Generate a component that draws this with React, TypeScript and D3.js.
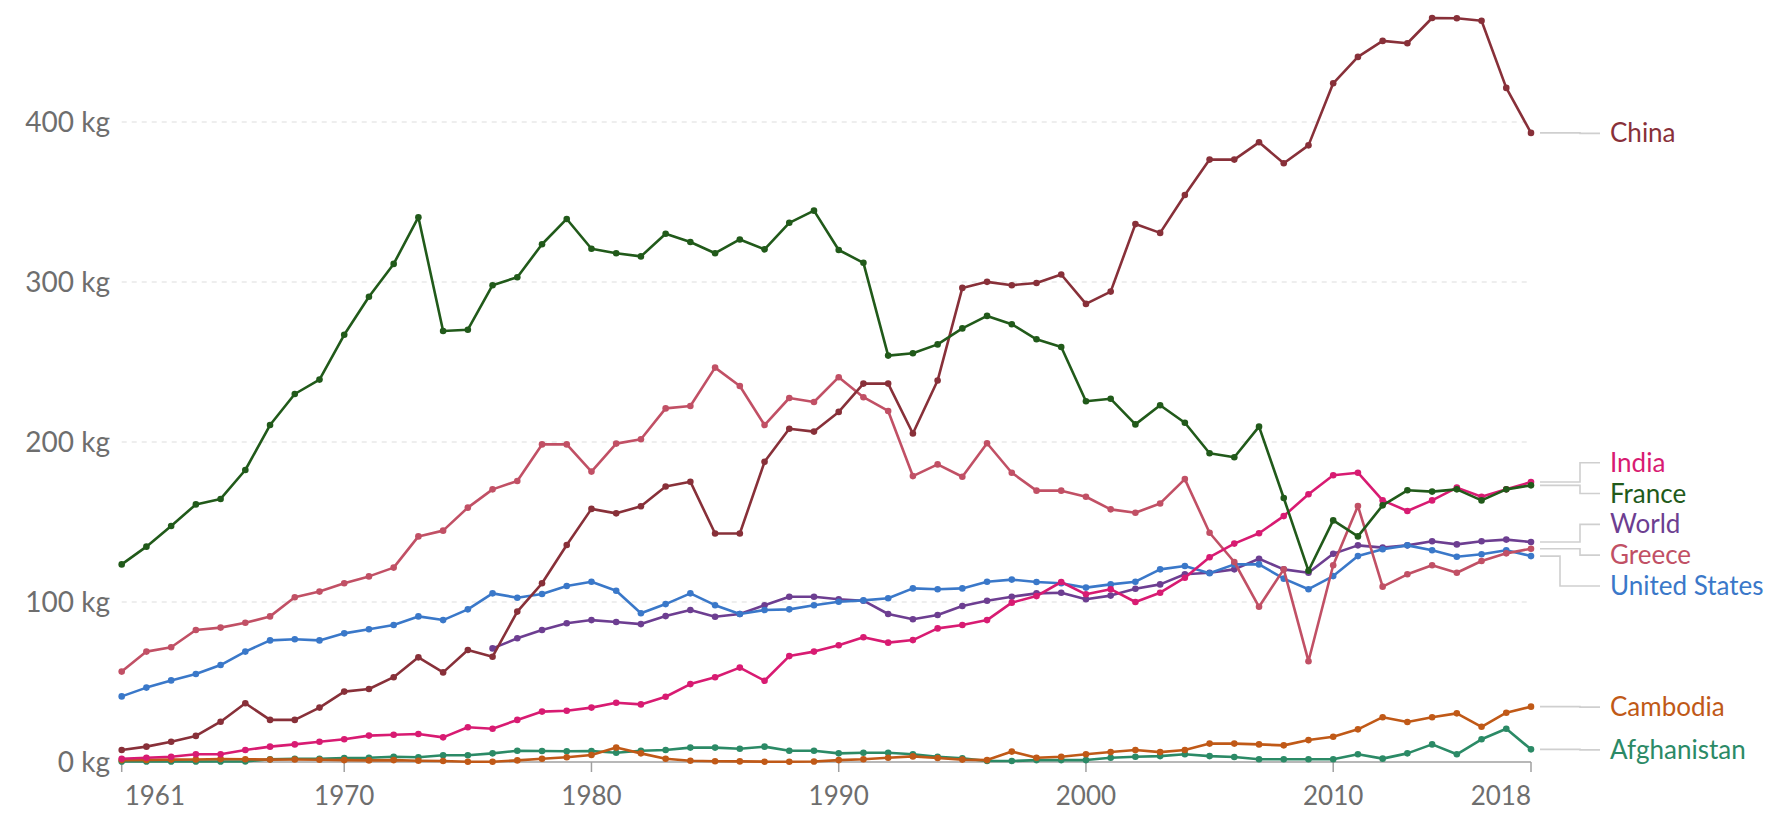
import React from 'react';
import * as d3 from 'd3';

const years: number[] = d3.range(1961, 2019);

const china = [7.5, 9.6, 12.7, 16.3, 25.2, 36.7, 26.3, 26.3, 34, 44, 45.6, 53, 65.4, 56, 70, 65.8, 94, 111.7, 135.6, 158.2,
  155.4, 159.8, 172.2, 175.2, 142.8, 142.8, 187.6, 208.3, 206.5, 218.8, 236.5, 236.5, 205.3, 238.4, 296.3, 300.1, 298, 299.4, 304.7, 286.3,
  294, 336.2, 330.7, 354.4, 376.5, 376.5, 387.3, 374.2, 385.4, 424.2, 440.7, 450.7, 449.2, 465, 464.8, 463.3, 421.3, 393.2];
const france = [123.5, 134.6, 147.5, 161, 164.4, 182.5, 210.6, 230, 239, 267, 290.8, 311.3, 340.5, 269.4, 270.2, 298, 303, 323.6, 339.4, 320.8,
  318, 316, 330.2, 325, 318, 326.6, 320.4, 337, 344.6, 320, 312, 254, 255.5, 261, 271, 278.8, 273.6, 264.2, 259.4, 225.5,
  227, 211, 223, 212, 193, 190.5, 209.6, 165, 119.5, 151, 141, 160.4, 169.8, 169, 170.4, 163.5, 170.4, 172.9];
const greece = [56.5, 69, 71.7, 82.5, 84, 87, 91, 103, 106.5, 111.7, 116, 121.5, 141, 144.6, 159, 170.4, 175.6, 198.5, 198.5, 181.5,
  199, 201.7, 221, 222.5, 246.5, 235, 210.6, 227.5, 225, 240.5, 228, 219.4, 178.7, 186, 178.3, 199.2, 180.8, 169.6, 169.6, 165.8,
  157.9, 155.8, 161.6, 176.8, 143.3, 125, 97, 120.4, 63, 123, 160, 109.6, 117.3, 123, 118.3, 125.6, 130.4, 133.3];
const india = [2, 2.7, 3.3, 4.8, 4.8, 7.5, 9.6, 11, 12.7, 14.2, 16.5, 17, 17.5, 15.4, 21.7, 20.8, 26.3, 31.5, 32, 34,
  37, 36, 40.8, 48.7, 53, 59, 50.8, 66.2, 69, 73, 78, 74.6, 76.2, 83.5, 85.6, 88.7, 99.6, 103.7, 112.5, 104.8,
  108, 100, 105.8, 115.2, 128, 136.5, 143, 153.7, 167.3, 179.2, 180.8, 163.5, 156.9, 163.5, 171.5, 165.8, 170.4, 175];
const unitedStates = [41, 46.5, 51, 55, 60.6, 69, 76, 76.7, 76, 80.4, 83, 85.6, 91, 88.7, 95.4, 105.4, 102.7, 105, 110, 112.7,
  107, 93, 98.7, 105.4, 98, 92.5, 95, 95.4, 98, 100.2, 101, 102.3, 108.5, 108, 108.5, 112.7, 114, 112.5, 111.7, 109,
  111, 112.7, 120.4, 122.5, 118, 123.5, 123.5, 114.6, 108, 116.2, 128.7, 133, 135.4, 132.3, 128.3, 129.8, 132.3, 128.7];
const world = [null, null, null, null, null, null, null, null, null, null, null, null, null, null, null, 71, 77.3, 82.5, 86.7, 88.7,
  87.5, 86.2, 91.2, 95, 90.8, 92.5, 98, 103.3, 103.3, 101.7, 100.8, 92.5, 89.2, 91.9, 97.5, 100.8, 103.3, 105.4, 105.8, 101.7,
  104, 108.3, 111, 117.3, 118.3, 120.4, 127, 120.4, 118.3, 130.2, 135.4, 134, 135.4, 138, 136, 138, 139, 137.5];
const cambodia = [1.2, 1.3, 1.5, 1.6, 1.8, 1.7, 1.5, 1.6, 1.4, 1.2, 1.0, 1.2, 0.8, 0.6, 0.2, 0.2, 1.0, 2.0, 3.0, 4.4,
  9.0, 5.4, 2.0, 0.8, 0.5, 0.4, 0.2, 0.2, 0.3, 1.2, 1.7, 2.7, 3.5, 2.5, 1.5, 1.2, 6.5, 2.7, 3.3, 4.8,
  6.2, 7.5, 6.2, 7.5, 11.5, 11.5, 11, 10.4, 13.7, 15.8, 20.4, 28, 25, 28, 30.4, 22, 30.8, 34.6];
const afghanistan = [0.3, 0.3, 0.3, 0.3, 0.3, 0.4, 1.7, 2, 2, 2.5, 2.7, 3.3, 3, 4.2, 4.2, 5.4, 7, 6.9, 6.7, 6.9,
  5.8, 7, 7.5, 9, 9, 8.3, 9.6, 7, 7, 5.4, 5.8, 5.8, 4.8, 3.3, 2.3, 0.6, 0.6, 1.2, 1.2, 1.2,
  2.7, 3.3, 3.7, 4.8, 3.7, 3.1, 1.7, 1.7, 1.7, 1.7, 4.8, 2.1, 5.4, 11, 4.8, 14.2, 20.8, 7.9];

const seriesNames = ['Afghanistan', 'Cambodia', 'World', 'United States', 'Greece', 'India', 'China', 'France'];
const seriesValues: Record<string, (number | null)[]> = {
  China: china, France: france, Greece: greece, India: india, 'United States': unitedStates,
  World: world, Cambodia: cambodia, Afghanistan: afghanistan,
};
const seriesColors: Record<string, string> = {
  China: '#883039', France: '#215a1a', Greece: '#c15065', India: '#d81b72', 'United States': '#3a78c9',
  World: '#6d3e91', Cambodia: '#c05917', Afghanistan: '#2b8a66',
};
const kneeOverride: Record<string, number> = { 'United States': 1560 };

const yTicks = [0, 100, 200, 300, 400];
const xTicks = [1961, 1970, 1980, 1990, 2000, 2010, 2018];

const W = 1781, H = 815;
const FONT = 'Lato, "Open Sans", sans-serif';

export default function App() {
  const x = d3.scaleLinear().domain([1961, 2018]).range([121.7, 1531]);
  const y = d3.scaleLinear().domain([0, 400]).range([762, 122]);

  const line = d3.line<[number, number | null]>()
    .defined(d => d[1] !== null)
    .x(d => x(d[0]))
    .y(d => y(d[1] as number));

  const labelH = 30.8;
  type L = { name: string; dataY: number; y: number };
  const labels: L[] = seriesNames.map(n => {
    const v = seriesValues[n];
    const last = v[v.length - 1] as number;
    return { name: n, dataY: y(last), y: y(last) };
  }).sort((a, b) => a.dataY - b.dataY);
  const clusters = labels.map(l => ({ items: [l], center: l.dataY }));
  let changed = true;
  while (changed) {
    changed = false;
    for (let i = 0; i < clusters.length - 1; i++) {
      const a = clusters[i], b = clusters[i + 1];
      const aBottom = a.center + (a.items.length * labelH) / 2;
      const bTop = b.center - (b.items.length * labelH) / 2;
      if (aBottom > bTop) {
        const items = [...a.items, ...b.items];
        const center = d3.mean(items, d => d.dataY) as number;
        clusters.splice(i, 2, { items, center });
        changed = true;
        break;
      }
    }
  }
  clusters.forEach(c => {
    const top = c.center - (c.items.length * labelH) / 2 + labelH / 2;
    c.items.forEach((it, i) => { it.y = top + i * labelH + (c.items.length > 1 ? 1.5 : 0.5); });
  });

  const x0 = x(2018);
  return (
    <svg width={W} height={H} style={{ position: 'absolute', left: 0, top: 0, background: '#fff' }}
      fontFamily={FONT}>
      <rect x={0} y={0} width={W} height={H} fill="#fff" />
      {yTicks.filter(t => t > 0).map(t => (
        <line key={'g' + t} x1={x(1961)} x2={x0} y1={y(t)} y2={y(t)} stroke="#dddddd" strokeWidth={1.2}
          strokeDasharray="5,5" />
      ))}
      {yTicks.map(t => (
        <text key={'yl' + t} x={110} y={y(t)} dy="0.35em" textAnchor="end" fontSize={28} fill="#6e6e6e">
          {t} kg
        </text>
      ))}
      <line x1={x(1961)} x2={x0} y1={y(0)} y2={y(0)} stroke="#a0a0a0" strokeWidth={1.5} />
      {xTicks.map((t, i) => (
        <g key={'xt' + t}>
          <line x1={x(t)} x2={x(t)} y1={y(0)} y2={y(0) + 10} stroke="#a0a0a0" strokeWidth={1.5} />
          <text x={x(t)} y={805} fontSize={26} fill="#6e6e6e"
            textAnchor={i === 0 ? 'start' : i === xTicks.length - 1 ? 'end' : 'middle'}
            dx={i === 0 ? 3 : 0}>
            {t}
          </text>
        </g>
      ))}
      {seriesNames.map(n => {
        const vals = seriesValues[n];
        const pts: [number, number | null][] = years.map((yr, i) => [yr, vals[i]]);
        return (
          <g key={n}>
            <path d={line(pts) || ''} fill="none" stroke={seriesColors[n]} strokeWidth={2.6}
              strokeLinejoin="round" />
            {pts.filter(p => p[1] !== null).map(p => (
              <circle key={p[0]} cx={x(p[0])} cy={y(p[1] as number)} r={3.3} fill={seriesColors[n]} />
            ))}
          </g>
        );
      })}
      {labels.map(l => {
        const knee = kneeOverride[l.name] ?? 1580;
        const d = `M1540,${l.dataY}H${knee}V${l.y}H1600`;
        return (
          <g key={'lab' + l.name}>
            <path d={d} fill="none" stroke="#cfcfcf" strokeWidth={1.6} />
            <text x={1610} y={l.y} dy="0.35em" fontSize={26} fill={seriesColors[l.name]}>{l.name}</text>
          </g>
        );
      })}
    </svg>
  );
}
